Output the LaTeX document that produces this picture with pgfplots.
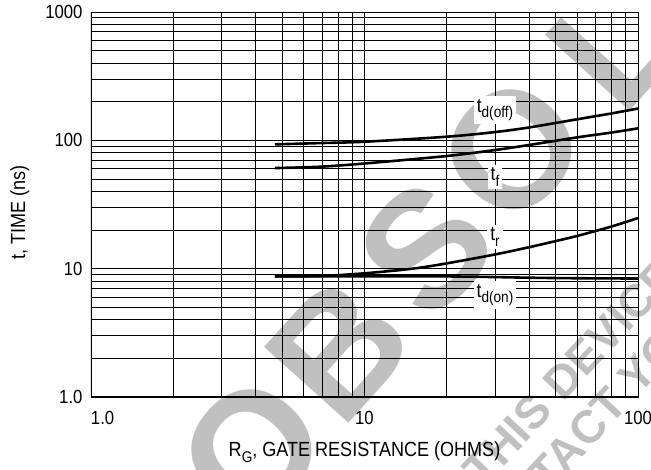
\documentclass[border=0pt]{standalone}
\usepackage{pgfplots}
\pgfplotsset{compat=1.18}
\usepackage{fontspec}
\setmainfont{Liberation Sans}[FakeStretch=0.88]
\newfontfamily\wmfont{Liberation Sans}
\definecolor{wm}{RGB}{192,192,192}
\newcommand{\sub}[1]{\raisebox{-0.28em}{\fontsize{15.5}{16}\selectfont #1}}
\begin{document}
\begin{tikzpicture}[x=1pt,y=1pt]
% watermark (behind everything); image px (X,Y) -> (X-91, 397-Y)
\begin{scope}[every node/.style={wm, rotate=48, font=\wmfont\bfseries\fontsize{165}{165}\selectfont, inner sep=0pt, anchor=center}]
\node at (252-91, 397-450) {O};
\node at (339-91, 397-349) {B};
\node at (426-91, 397-249) {S};
\node at (512-91, 397-150) {O};
\node at (614-91, 397-44) {L};
\node at (705-91, 397+55) {E};
\end{scope}
\node[wm, rotate=47, font=\wmfont\bfseries\fontsize{46}{46}\selectfont, anchor=base west, inner sep=0pt] at (483-91, 397-489) {THIS DEVICE IS NO LONGER};
\node[wm, rotate=47, font=\wmfont\bfseries\fontsize{46}{46}\selectfont, anchor=base west, inner sep=0pt] at (479-91, 397-568) {CONTACT YOUR};
\begin{axis}[
  scale only axis, width=547pt, height=385pt,
  xmode=log, ymode=log,
  xmin=1, xmax=100, ymin=1, ymax=1000,
  grid=both,
  major grid style={black, line width=0.8pt},
  minor grid style={black, line width=0.8pt},
  major tick length=0pt, minor tick length=0pt,
  axis line style={black, line width=0.8pt},
  xtick={1,10,100}, xticklabels={\makebox[0pt][l]{1.0},10,100},
  ytick={1,10,100,1000}, yticklabels={1.0,10,100,1000},
  ticklabel style={font=\fontsize{19}{21}\selectfont},
  xticklabel style={yshift=-11pt},
  yticklabel style={xshift=-5pt},
  xlabel={R\sub{G}, GATE RESISTANCE (OHMS)},
  ylabel={t, TIME (ns)},
  label style={font=\fontsize{20.5}{22}\selectfont},
  xlabel style={at={(axis description cs:0.5,-0.143)}, anchor=center},
  ylabel style={at={(axis description cs:-0.13,0.48)}, anchor=center},
  clip=true,
]
\addplot[black, line width=2.6pt, smooth] coordinates {
 (4.7,93) (6.9,95.2) (10,97.5) (20,106.7) (30,116) (40,126) (60,146) (80,162) (100,177)};
\addplot[black, line width=2.6pt, smooth] coordinates {
 (4.7,60.8) (6.9,62.3) (10,66) (20,75.5) (30,84) (40,92) (60,105.5) (80,115) (100,124)};
\addplot[black, line width=2.6pt, smooth] coordinates {
 (4.7,8.7) (7,8.78) (10,9.2) (15,10) (20,11) (30,12.9) (40,14.7) (50,16.4) (60,18) (80,21.3) (100,24.8)};
\addplot[black, line width=2.6pt, smooth] coordinates {
 (4.7,8.7) (10,8.7) (20,8.7) (30,8.6) (40,8.5) (60,8.42) (100,8.38)};
\begin{scope}[every node/.style={fill=white, font=\fontsize{20}{22}\selectfont, inner sep=3pt}]
\node at (axis cs:30,172) {t\sub{d(off)}};
\node at (axis cs:30,52) {t\sub{f}};
\node at (axis cs:30,17.7) {t\sub{r}};
\node at (axis cs:30,6.2) {t\sub{d(on)}};
\end{scope}
\draw[black, line width=1.8pt] (rel axis cs:0,1) -- (rel axis cs:0,0) -- (rel axis cs:1,0);
\end{axis}
\pgfresetboundingbox
\useasboundingbox (-91,-73) rectangle (560,397);
\end{tikzpicture}
\end{document}
